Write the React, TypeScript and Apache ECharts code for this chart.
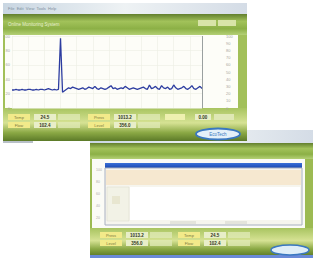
import React, { useEffect, useRef } from "react";
import * as echarts from "echarts";

const preSpike = [25, 25, 26, 25, 25, 26, 25, 25, 26, 26, 25, 25, 26, 25, 26, 26, 25, 26, 27, 26, 25, 26, 25, 26];
const spike = [97];
const postSpike = [22, 24, 26, 28, 27, 29, 28, 27, 26, 27, 28, 26, 27, 29, 28, 27, 30, 27, 26, 28, 27, 26, 27, 29, 31, 27, 28, 26, 27, 28, 27, 30, 28, 26, 27, 28, 27, 26, 27, 28, 29, 27, 26, 32, 27, 28, 30, 27, 26, 31, 28, 27, 29, 26, 27, 32, 28, 26, 27, 28, 30, 27, 26, 28, 31, 27, 26, 28, 30, 27];
const values = [...preSpike, ...spike, ...postSpike];
const categories = values.map((_, i) => String(i));
const panelLabels1 = ["Temp", "Flow"];
const panelValues1 = ["24.5", "102.4"];
const panelLabels2 = ["Press", "Level"];
const panelValues2 = ["1013.2", "356.0"];
const sideTicks = ["100", "80", "60", "40", "20"];

const greenHeader = {
  type: "linear", x: 0, y: 0, x2: 0, y2: 1,
  colorStops: [
    { offset: 0, color: "#627f2e" },
    { offset: 0.35, color: "#a2c25a" },
    { offset: 0.7, color: "#8cb046" },
    { offset: 1, color: "#b4d076" },
  ],
};
const greenPanel = {
  type: "linear", x: 0, y: 0, x2: 0, y2: 1,
  colorStops: [
    { offset: 0, color: "#a8c460" },
    { offset: 0.45, color: "#d6e294" },
    { offset: 0.75, color: "#8aa844" },
    { offset: 1, color: "#5c7a28" },
  ],
};
const titleBar = {
  type: "linear", x: 0, y: 0, x2: 1, y2: 0,
  colorStops: [
    { offset: 0, color: "#c9d6e2" },
    { offset: 0.5, color: "#eef2f4" },
    { offset: 1, color: "#d4dce6" },
  ],
};

function panel(x: number, y: number, labels: string[], vals: string[], z: number) {
  const els: any[] = [];
  labels.forEach((l, i) => {
    const yy = y + i * 8;
    els.push({ type: "rect", z, shape: { x, y: yy, width: 22, height: 6 }, style: { fill: "#f2ea8a" } });
    els.push({ type: "text", z: z + 1, style: { text: l, x: x + 11, y: yy + 3, fill: "#7a7a40", fontSize: 4, align: "center", verticalAlign: "middle" } });
    els.push({ type: "rect", z, shape: { x: x + 26, y: yy, width: 22, height: 6 }, style: { fill: "#e8eec8" } });
    els.push({ type: "text", z: z + 1, style: { text: vals[i], x: x + 37, y: yy + 3, fill: "#303820", fontSize: 4.5, fontWeight: "bold", align: "center", verticalAlign: "middle" } });
    els.push({ type: "rect", z, shape: { x: x + 50, y: yy, width: 22, height: 6 }, style: { fill: "#dfe8b4", opacity: 0.8 } });
  });
  return els;
}

export default function App() {
  const ref = useRef<HTMLDivElement>(null);
  useEffect(() => {
    if (!ref.current) return;
    const chart = echarts.init(ref.current, null, { renderer: "svg" });
    const w2 = -30;
    const w1 = -20;
    const graphic: any[] = [
      // window 2 (behind)
      { type: "rect", z: w2, shape: { x: 90, y: 130, width: 223, height: 13 }, style: { fill: titleBar } },
      { type: "rect", z: w2, shape: { x: 90, y: 143, width: 223, height: 16 }, style: { fill: greenHeader } },
      { type: "rect", z: w2, shape: { x: 90, y: 159, width: 223, height: 70 }, style: { fill: "#9cba52" } },
      { type: "rect", z: w2, shape: { x: 92, y: 159, width: 213, height: 69 }, style: { fill: "#fbfbf6" } },
      ...sideTicks.map((t, i) => ({ type: "text", z: w2 + 1, style: { text: t, x: 96, y: 170 + i * 12, fill: "#b0b0a8", fontSize: 3.5, verticalAlign: "middle" } })),
      { type: "rect", z: w2, shape: { x: 105, y: 163, width: 197, height: 5 }, style: { fill: { type: "linear", x: 0, y: 0, x2: 0, y2: 1, colorStops: [{ offset: 0, color: "#3a70d8" }, { offset: 1, color: "#1a48b0" }] } } },
      { type: "rect", z: w2, shape: { x: 105, y: 168, width: 197, height: 57 }, style: { fill: "#f6f5ee", stroke: "#a8b0c0", lineWidth: 1 } },
      { type: "rect", z: w2, shape: { x: 106, y: 170, width: 195, height: 15 }, style: { fill: "#f6e8d0" } },
      { type: "rect", z: w2, shape: { x: 130, y: 187, width: 170, height: 33 }, style: { fill: "#ffffff" } },
      { type: "rect", z: w2, shape: { x: 107, y: 187, width: 22, height: 34 }, style: { fill: "#f2f2e6", stroke: "#d8d8c8", lineWidth: 0.5 } },
      { type: "rect", z: w2, shape: { x: 112, y: 196, width: 8, height: 8 }, style: { fill: "#e8e6d0" } },
      { type: "rect", z: w2, shape: { x: 170, y: 221, width: 26, height: 3 }, style: { fill: "#e4e4dc" } },
      { type: "rect", z: w2, shape: { x: 225, y: 221, width: 22, height: 3 }, style: { fill: "#e4e4dc" } },
      { type: "rect", z: w2, shape: { x: 90, y: 228, width: 223, height: 28 }, style: { fill: greenPanel } },
      ...panel(100, 232, panelLabels2, panelValues2, w2 + 1),
      ...panel(178, 232, panelLabels1, panelValues1, w2 + 1),
      { type: "rect", z: w2, shape: { x: 90, y: 255, width: 223, height: 3 }, style: { fill: "#6a8ad8" } },
      { type: "ellipse", z: w2 + 1, shape: { cx: 290, cy: 250, rx: 19, ry: 5 }, style: { fill: "#dfeef8", stroke: "#3a78c0", lineWidth: 1.5 } },

      // window 1 (front)
      { type: "rect", z: w1, shape: { x: 3, y: 3, width: 244, height: 11 }, style: { fill: titleBar } },
      { type: "text", z: w1 + 1, style: { text: "File  Edit  View  Tools  Help", x: 8, y: 8, fill: "#8090a0", fontSize: 4, verticalAlign: "middle" } },
      { type: "rect", z: w1, shape: { x: 3, y: 14, width: 244, height: 21 }, style: { fill: greenHeader } },
      { type: "text", z: w1 + 1, style: { text: "Online Monitoring System", x: 8, y: 24, fill: "#e8f0d0", fontSize: 4.5, verticalAlign: "middle" } },
      { type: "rect", z: w1, shape: { x: 198, y: 20, width: 18, height: 6 }, style: { fill: "#d8e4a8" } },
      { type: "rect", z: w1, shape: { x: 218, y: 20, width: 18, height: 6 }, style: { fill: "#d8e4a8" } },
      { type: "rect", z: w1, shape: { x: 3, y: 35, width: 244, height: 75 }, style: { fill: "#a2c05a" } },
      { type: "rect", z: w1, shape: { x: 5, y: 35, width: 233, height: 74 }, style: { fill: "#fdfdf8" } },
      { type: "rect", z: w1, shape: { x: 3, y: 108, width: 244, height: 33 }, style: { fill: greenPanel } },
      ...panel(8, 114, panelLabels1, panelValues1, w1 + 1),
      ...panel(88, 114, panelLabels2, panelValues2, w1 + 1),
      { type: "rect", z: w1 + 1, shape: { x: 165, y: 114, width: 20, height: 6 }, style: { fill: "#eef0b0" } },
      { type: "rect", z: w1 + 1, shape: { x: 195, y: 114, width: 16, height: 6 }, style: { fill: "#e8eec8" } },
      { type: "text", z: w1 + 2, style: { text: "0.00", x: 203, y: 117, fill: "#303820", fontSize: 4.5, fontWeight: "bold", align: "center", verticalAlign: "middle" } },
      { type: "rect", z: w1 + 1, shape: { x: 214, y: 114, width: 20, height: 6 }, style: { fill: "#dfe8b4" } },
      { type: "rect", z: w1, shape: { x: 3, y: 141, width: 30, height: 2 }, style: { fill: "#b8c0c8" } },
      { type: "ellipse", z: w1 + 1, shape: { cx: 218, cy: 134, rx: 22, ry: 5.5 }, style: { fill: "#e4f0f8", stroke: "#3a78c0", lineWidth: 1.8 } },
      { type: "text", z: w1 + 2, style: { text: "EcoTech", x: 218, y: 134, fill: "#3a78c0", fontSize: 4.5, align: "center", verticalAlign: "middle" } },
    ];
    chart.setOption({
      animation: false,
      backgroundColor: "#ffffff",
      graphic,
      grid: { left: 12, right: 111, top: 36, bottom: 152, containLabel: false },
      xAxis: {
        type: "category",
        data: categories,
        boundaryGap: false,
        axisLine: { show: false },
        axisTick: { show: false },
        axisLabel: { show: false },
        splitLine: { show: true, interval: 7, lineStyle: { color: "#eceee4", width: 0.6 } },
      },
      yAxis: [
        {
          type: "value", min: 0, max: 100, interval: 20,
          axisLine: { show: false }, axisTick: { show: false },
          axisLabel: { fontSize: 4, color: "#a8a8a0", margin: 2 },
          splitLine: { lineStyle: { color: "#eceee4", width: 0.6 } },
        },
        {
          type: "value", min: 0, max: 100, interval: 10, position: "right", offset: 22,
          axisLine: { show: false }, axisTick: { show: false },
          axisLabel: { fontSize: 4, color: "#a8a8a0", margin: 2 },
          splitLine: { show: false },
        },
      ],
      series: [
        {
          type: "line",
          data: values,
          showSymbol: false,
          lineStyle: { color: "#2c3ca0", width: 1.3 },
          markLine: {
            silent: true, symbol: "none", label: { show: false },
            lineStyle: { color: "#9aa0a0", type: "solid", width: 1 },
            data: [{ xAxis: categories[categories.length - 1] }],
          },
        },
      ],
    });
    return () => chart.dispose();
  }, []);
  return <div ref={ref} style={{ position: "fixed", left: 0, top: 0, width: 313, height: 260 }} />;
}
